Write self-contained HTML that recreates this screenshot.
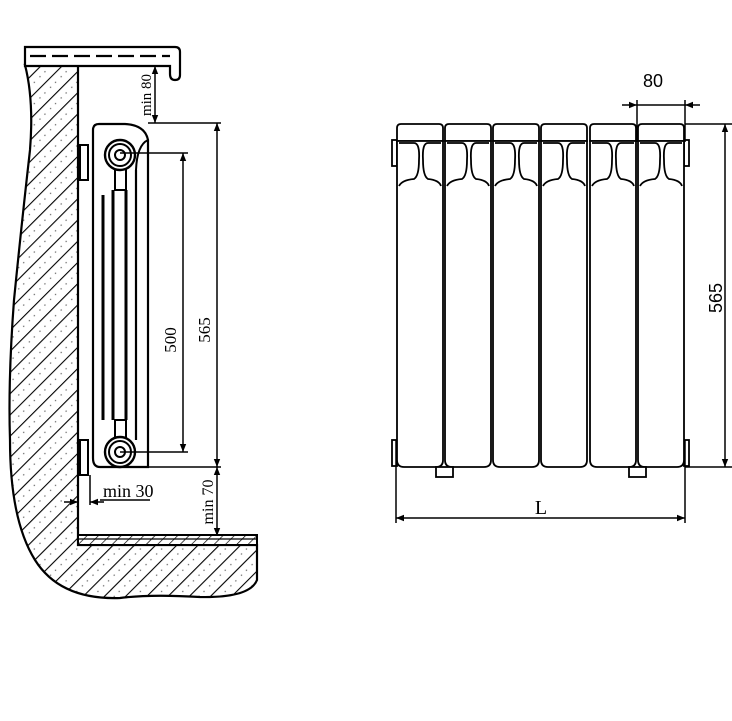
<!DOCTYPE html>
<html><head><meta charset="utf-8"><style>html,body{margin:0;padding:0;background:#fff}svg{display:block}</style></head>
<body>
<svg width="732" height="721" viewBox="0 0 732 721" xmlns="http://www.w3.org/2000/svg" font-family="Liberation Serif, serif">
<defs>
<pattern id="h" width="15" height="15" patternUnits="userSpaceOnUse" patternTransform="rotate(45)">
<rect width="15" height="15" fill="#fff"/>
<line x1="0" y1="0" x2="0" y2="15" stroke="#000" stroke-width="2.2"/>
<circle cx="7.5" cy="4" r="0.7" fill="#666"/><circle cx="7.5" cy="11" r="0.7" fill="#666"/>
</pattern>
<pattern id="h2" width="8" height="8" patternUnits="userSpaceOnUse" patternTransform="rotate(45)">
<line x1="0" y1="0" x2="0" y2="8" stroke="#000" stroke-width="1.4"/>
</pattern>
<marker id="a" viewBox="0 0 10 10" refX="10" refY="5" markerWidth="12" markerHeight="8" orient="auto-start-reverse" markerUnits="userSpaceOnUse"><path d="M0,1 L10,5 L0,9z" fill="#000"/></marker>
</defs>
<g stroke="#000" fill="none" stroke-width="2">
<!-- wall -->
<path d="M25,65 L78,65 L78,545 L257,545 L257,580 Q250,598 200,597 Q150,594 120,598 Q60,600 35,560 Q10,520 10,440 Q8,380 14,300 Q22,220 30,150 Q34,100 25,65 Z" fill="url(#h)" stroke-width="2.2"/>
<rect x="78" y="535" width="179" height="10" fill="#fff"/>
<rect x="78" y="535" width="179" height="10" fill="url(#h2)"/>
<line x1="78" y1="539" x2="257" y2="539" stroke-width="1.2"/>
<!-- sill -->
<path d="M25,47 L175,47 Q180,47 180,52 L180,75 Q180,80 175,80 Q170,80 170,74 L170,66 L25,66 Z" fill="#fff" stroke-width="2.2"/>
<line x1="30" y1="56" x2="170" y2="56" stroke-dasharray="16,6" stroke-width="2.2"/>
<!-- brackets -->
<rect x="80" y="145" width="8" height="35" fill="#fff"/>
<rect x="80" y="440" width="8" height="35" fill="#fff"/>
<!-- radiator side -->
<path d="M93,130 Q93,124 99,124 L125,124 Q145,125 148,140 L148,467 L100,467 Q93,467 93,458 Z" fill="#fff" stroke-width="2.2"/>
<path d="M148,140 Q137,145 136,170" />
<line x1="103" y1="195" x2="103" y2="420" stroke-width="3"/>
<line x1="113" y1="190" x2="113" y2="420" stroke-width="3"/>
<line x1="126" y1="190" x2="126" y2="420" stroke-width="3"/>
<line x1="136" y1="170" x2="136" y2="440" stroke-width="2.2"/>
<rect x="115" y="168" width="11" height="22" fill="#fff"/>
<rect x="115" y="420" width="11" height="20" fill="#fff"/>
<circle cx="120" cy="155" r="15" fill="#fff" stroke-width="2.4"/><circle cx="120" cy="155" r="11"/><circle cx="120" cy="155" r="5"/>
<circle cx="120" cy="452" r="15" fill="#fff" stroke-width="2.4"/><circle cx="120" cy="452" r="11"/><circle cx="120" cy="452" r="5"/>
<!-- dims side -->
<g stroke-width="1.5">
<line x1="120" y1="153" x2="188" y2="153"/><line x1="120" y1="452" x2="188" y2="452"/>
<line x1="183" y1="153" x2="183" y2="452" marker-start="url(#a)" marker-end="url(#a)"/>
<line x1="148" y1="123" x2="221" y2="123"/><line x1="100" y1="467" x2="221" y2="467"/>
<line x1="217" y1="123" x2="217" y2="467" marker-start="url(#a)" marker-end="url(#a)"/>
<line x1="217" y1="467" x2="217" y2="536" marker-start="url(#a)" marker-end="url(#a)"/>
<line x1="155" y1="66" x2="155" y2="123" marker-start="url(#a)" marker-end="url(#a)"/>
<line x1="90" y1="475" x2="90" y2="505"/>
<line x1="64" y1="502" x2="78" y2="502" marker-end="url(#a)"/>
<line x1="104" y1="502" x2="90" y2="502" marker-end="url(#a)"/>
<line x1="100" y1="500" x2="150" y2="500"/>
</g>
</g>
<g font-size="17" fill="#000">
<text transform="translate(176,340) rotate(-90)" text-anchor="middle">500</text>
<text transform="translate(210,330) rotate(-90)" text-anchor="middle">565</text>
<text transform="translate(151,95) rotate(-90)" text-anchor="middle" font-size="15">min 80</text>
<text transform="translate(213,502) rotate(-90)" text-anchor="middle" font-size="16">min 70</text>
<text x="103" y="497" font-size="18">min 30</text>
</g>
<!-- front view -->
<g stroke="#000" fill="#fff" stroke-width="1.8">
<rect x="392" y="140" width="5" height="26"/><rect x="392" y="440" width="5" height="26"/>
<rect x="684" y="140" width="5" height="26"/><rect x="684" y="440" width="5" height="26"/>
<g id="s">
<path d="M397,128 Q397,124 401,124 L439,124 Q443,124 443,128 L443,141 L397,141 Z"/>
<path d="M397,141 L443,141 L443,460 Q443,467 436,467 L404,467 Q397,467 397,460 Z"/>
<path d="M399,143 H414 Q420,143 419,160 Q419,176 414,179 Q402,180 399,186" fill="none"/>
<path d="M441,143 H428 Q422,143 423,160 Q423,176 428,179 Q439,180 441,186" fill="none"/>
</g>
<use href="#s" x="48"/><use href="#s" x="96"/><use href="#s" x="144"/><use href="#s" x="193"/><use href="#s" x="241"/>
<rect x="436" y="467" width="17" height="10"/><rect x="629" y="467" width="17" height="10"/>
<g stroke-width="1.5" fill="none">
<line x1="637" y1="100" x2="637" y2="142"/><line x1="685" y1="100" x2="685" y2="142"/>
<line x1="622" y1="105" x2="637" y2="105" marker-end="url(#a)"/>
<line x1="700" y1="105" x2="685" y2="105" marker-end="url(#a)"/>
<line x1="637" y1="105" x2="685" y2="105"/>
<line x1="685" y1="124" x2="733" y2="124"/><line x1="685" y1="467" x2="733" y2="467"/>
<line x1="725" y1="124" x2="725" y2="467" marker-start="url(#a)" marker-end="url(#a)"/>
<line x1="396" y1="440" x2="396" y2="523"/><line x1="685" y1="440" x2="685" y2="523"/>
<line x1="396" y1="518" x2="685" y2="518" marker-start="url(#a)" marker-end="url(#a)"/>
</g>
</g>
<g font-family="Liberation Sans, sans-serif" font-size="18" fill="#000">
<text x="653" y="87" text-anchor="middle">80</text>
<text transform="translate(722,298) rotate(-90)" text-anchor="middle">565</text>
<text x="541" y="514" text-anchor="middle" font-family="Liberation Serif, serif" font-size="20">L</text>
</g>
</svg>
</body></html>
